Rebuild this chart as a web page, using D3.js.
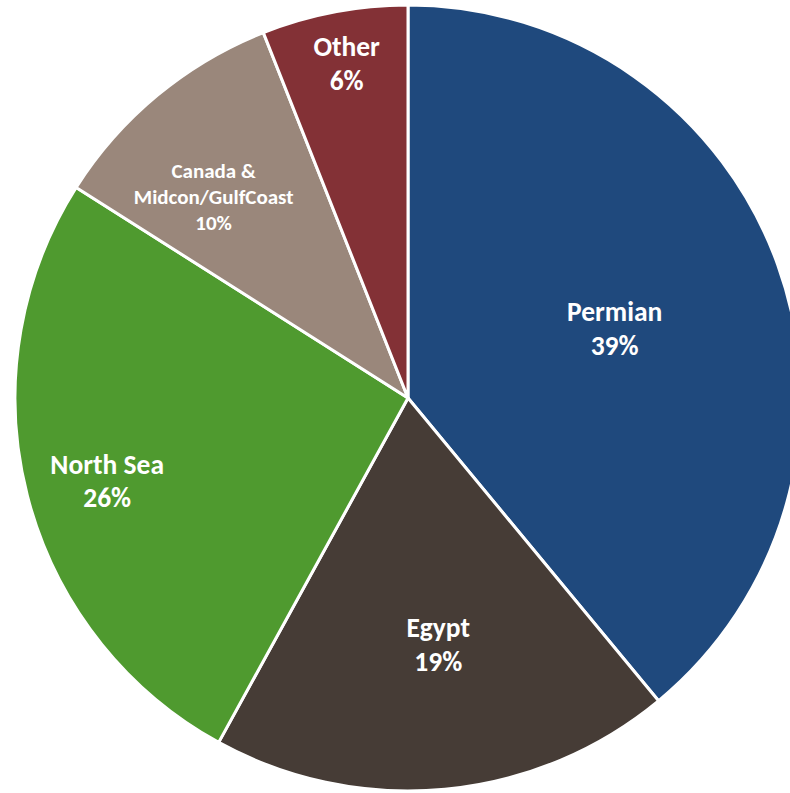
<!DOCTYPE html>
<html>
<head>
<meta charset="utf-8">
<script src="https://cdn.jsdelivr.net/npm/d3@7"></script>
<style>
  html, body { margin: 0; padding: 0; background: #fff; overflow: hidden; }
  svg { display: block; }
  text { font-family: Carlito, Calibri, Lato, "Open Sans", sans-serif; font-weight: 700; fill: #fff; }
</style>
</head>
<body>
<svg id="chart" width="790" height="793"></svg>
<script>
// Production share by region (percent)
const regions = ["Permian", "Egypt", "North Sea", "Canada &\nMidcon/GulfCoast", "Other"];
const shares = [39, 19, 26, 10, 6];
const colors = ["#1F497D", "#463C36", "#4F9A2F", "#9A877B", "#833136"];

// Label placement: distance from centre (fraction of radius), angular nudge (degrees), font size
const labelDistance = [0.555, 0.631, 0.794, 0.712, 0.865];
const labelNudge = [1.1, -1.6, -1, -4.4, 0.4];
const labelFont = [27.5, 27.5, 27.5, 21, 27.5];

const width = 790, height = 793;
const cx = 408, cy = 398, radius = 393;

const svg = d3.select("#chart");
const g = svg.append("g").attr("transform", `translate(${cx},${cy})`);

const data = regions.map((name, i) => ({ name, value: shares[i], i }));

const pie = d3.pie()
  .value(d => d.value)
  .sort(null)
  .startAngle(0)
  .endAngle(2 * Math.PI);

const arcs = pie(data);
const arc = d3.arc().innerRadius(0).outerRadius(radius);

g.selectAll("path.slice")
  .data(arcs)
  .join("path")
  .attr("class", "slice")
  .attr("d", arc)
  .attr("fill", d => colors[d.data.i])
  .attr("stroke", "#fff")
  .attr("stroke-width", 3)
  .attr("stroke-linejoin", "round");

const labels = g.selectAll("text.label")
  .data(arcs)
  .join("text")
  .attr("class", "label")
  .attr("text-anchor", "middle")
  .style("font-size", d => labelFont[d.data.i] + "px")
  .attr("transform", d => {
    const r = radius * labelDistance[d.data.i];
    const a = (d.startAngle + d.endAngle) / 2 + labelNudge[d.data.i] * Math.PI / 180;
    return `translate(${Math.sin(a) * r},${-Math.cos(a) * r})`;
  });

labels.each(function(d) {
  const lines = d.data.name.split("\n").concat([d.data.value + "%"]);
  const fs = labelFont[d.data.i];
  const lh = fs * 1.23;
  const t = d3.select(this);
  const offset = -(lines.length - 1) * lh / 2;
  lines.forEach((line, k) => {
    t.append("tspan")
      .attr("x", 0)
      .attr("y", offset + k * lh)
      .attr("dy", "0.35em")
      .text(line);
  });
});
</script>
</body>
</html>
